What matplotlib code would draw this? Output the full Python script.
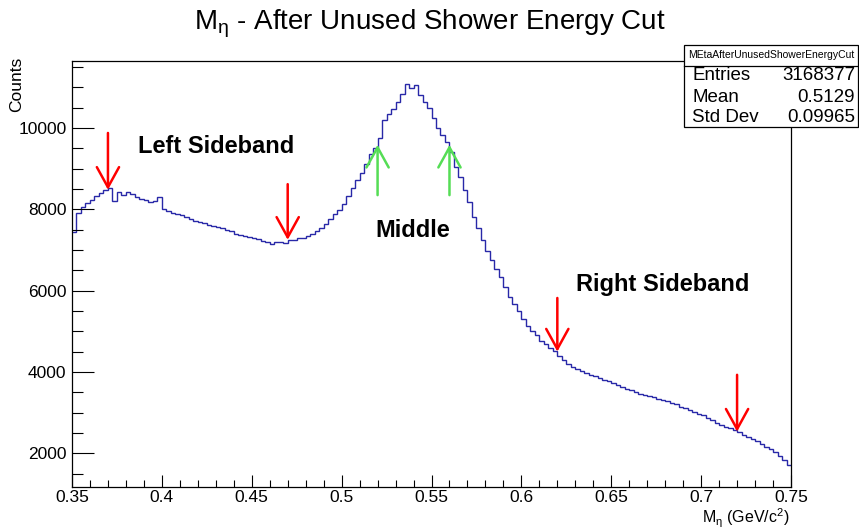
#!/usr/bin/env python3
"""
M_eta histogram after the unused shower energy cut, ROOT-style
"""
import numpy as np
import matplotlib
matplotlib.use('Agg')
import matplotlib.pyplot as plt
from matplotlib.patches import Rectangle
from matplotlib.ticker import MultipleLocator

plt.rcParams['font.family'] = ['Liberation Sans', 'DejaVu Sans']
plt.rcParams['mathtext.fontset'] = 'custom'
plt.rcParams['mathtext.rm'] = 'Liberation Sans'
plt.rcParams['mathtext.it'] = 'Liberation Sans'

# histogram range and bin contents (160 bins, 0.0025 wide)
x_min, x_max = 0.35, 0.75
counts = [
    7450, 7900, 8050, 8150, 8220, 8330, 8400, 8470, 8530, 8200,
    8420, 8350, 8430, 8380, 8300, 8250, 8230, 8170, 8200, 8300,
    8020, 7950, 7920, 7880, 7850, 7800, 7770, 7720, 7690, 7660,
    7620, 7600, 7570, 7540, 7500, 7470, 7400, 7370, 7340, 7320,
    7300, 7280, 7230, 7190, 7160, 7190, 7200, 7170, 7250, 7240,
    7300, 7290, 7350, 7390, 7460, 7530, 7640, 7760, 7880, 7990,
    8130, 8330, 8520, 8720, 8900, 9120, 9360, 9500, 9750, 10200,
    10350, 10480, 10650, 10850, 11080, 10980, 11050, 10820, 10630, 10500,
    10250, 10000, 9820, 9650, 9400, 9050, 8800, 8480, 8180, 7800,
    7550, 7250, 6980, 6750, 6530, 6330, 6100, 5850, 5680, 5500,
    5300, 5120, 5000, 4900, 4770, 4680, 4590, 4520, 4400, 4300,
    4200, 4130, 4080, 4020, 3980, 3920, 3890, 3850, 3810, 3770,
    3730, 3690, 3640, 3590, 3550, 3510, 3470, 3440, 3410, 3380,
    3340, 3300, 3280, 3240, 3200, 3150, 3110, 3060, 3010, 2970,
    2940, 2870, 2810, 2740, 2690, 2650, 2610, 2570, 2530, 2460,
    2400, 2340, 2300, 2230, 2160, 2100, 2030, 1940, 1840, 1700,
]

# sideband / signal markers: (x, tail, tip)
red_arrows = [(0.37, 9880, 8480), (0.47, 8620, 7250),
              (0.62, 5820, 4500), (0.72, 3930, 2530)]
green_arrows = [(0.52, 8350, 9590), (0.56, 8350, 9590)]

region_labels = ['Left Sideband', 'Middle', 'Right Sideband']
region_pos = [(0.430, 9540), (0.5395, 7490), (0.6785, 6140)]

stat_names = ['Entries', 'Mean', 'Std Dev']
stat_values = ['3168377', '0.5129', '0.09965']
hist_name = 'MEtaAfterUnusedShowerEnergyCut'

fig = plt.figure(figsize=(8.59, 5.30), dpi=100)
ax = fig.add_axes([72 / 859, 43 / 530, 719 / 859, 426 / 530])

edges = np.linspace(x_min, x_max, len(counts) + 1)
ax.stairs(counts, edges, color='#2828a8', lw=1.0, baseline=None)

ax.set_xlim(x_min, x_max)
ax.set_ylim(1170, 11650)

ax.xaxis.set_major_locator(MultipleLocator(0.05))
ax.xaxis.set_minor_locator(MultipleLocator(0.01))
ax.yaxis.set_major_locator(MultipleLocator(2000))
ax.yaxis.set_minor_locator(MultipleLocator(500))
ax.xaxis.set_major_formatter(plt.FuncFormatter(lambda v, p: f'{v:g}'))
ax.tick_params(axis='x', which='major', direction='in', length=9, width=0.8,
               labelsize=12.5, pad=2.5)
ax.tick_params(axis='x', which='minor', direction='in', length=4.7, width=0.8)
ax.tick_params(axis='y', which='major', direction='in', length=15.5, width=0.8,
               labelsize=12.5, pad=4)
ax.tick_params(axis='y', which='minor', direction='in', length=7.8, width=0.8)
for s in ax.spines.values():
    s.set_linewidth(0.9)

# axis titles placed ROOT-like: x at the right end, y at the top end
fig.text(790 / 859, 1 - 518 / 530, r'M$_{\eta}$ (GeV/c$^{2}$)',
         ha='right', va='center', fontsize=11.5)
fig.text(17 / 859, 1 - 57 / 530, 'Counts', rotation=90,
         ha='center', va='top', fontsize=12.5)

fig.text(0.5, 1 - 24 / 530, r'M$_{\eta}$ - After Unused Shower Energy Cut',
         ha='center', va='center', fontsize=20)

# arrows
style = '->,head_length=1.45,head_width=0.8'
for x, y0, y1 in red_arrows:
    ax.annotate('', xy=(x, y1), xytext=(x, y0),
                arrowprops=dict(arrowstyle=style, color='#ff0000', lw=1.8,
                                shrinkA=0, shrinkB=0))
for x, y0, y1 in green_arrows:
    ax.annotate('', xy=(x, y1), xytext=(x, y0),
                arrowprops=dict(arrowstyle=style, color='#55dd55', lw=1.8,
                                shrinkA=0, shrinkB=0))

for lab, (x, y) in zip(region_labels, region_pos):
    ax.text(x, y, lab, ha='center', va='center', fontsize=17, fontweight='bold')

# stat box
bx, by, bw, bh = 684 / 859, 1 - 127 / 530, 174 / 859, 82 / 530
fig.patches.append(Rectangle((bx, by), bw, bh, transform=fig.transFigure,
                             facecolor='white', edgecolor='black', lw=0.9, zorder=5))
sep = 1 - 66 / 530
fig.add_artist(plt.Line2D([bx, bx + bw], [sep, sep], transform=fig.transFigure,
                          color='black', lw=0.9, zorder=6))
fig.text(bx + bw / 2, 1 - 55 / 530, hist_name, ha='center', va='center',
         fontsize=7.5, zorder=7)
row_y = [76, 97, 118]
for name, val, ry in zip(stat_names, stat_values, row_y):
    fig.text(692 / 859, 1 - ry / 530, name, ha='left', va='center',
             fontsize=13.5, zorder=7)
    fig.text(855 / 859, 1 - ry / 530, val, ha='right', va='center',
             fontsize=13.5, zorder=7)

fig.savefig('out.png', dpi=100)
